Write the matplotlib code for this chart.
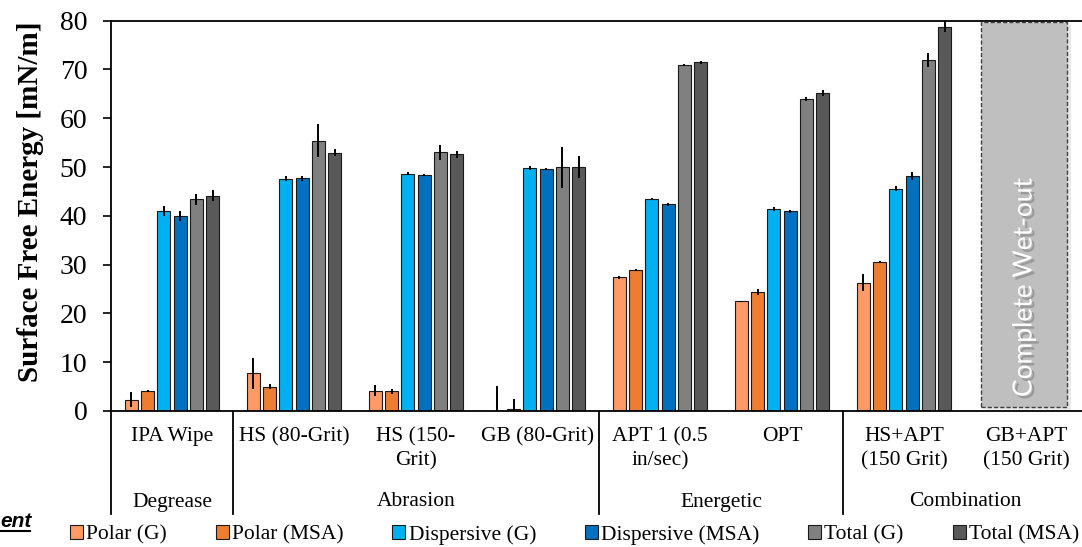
import numpy as np
import matplotlib
matplotlib.use("Agg")
import matplotlib.pyplot as plt
from matplotlib.patches import Rectangle
from matplotlib.lines import Line2D
from matplotlib import patheffects

# ---- data ---------------------------------------------------------------
treatments = ["IPA Wipe", "HS (80-Grit)", "HS (150-\nGrit)", "GB (80-Grit)",
              "APT 1 (0.5\nin/sec)", "OPT", "HS+APT\n(150 Grit)", "GB+APT\n(150 Grit)"]
groups = ["Degrease", "Abrasion", "Energetic", "Combination"]
group_sizes = [1, 3, 2, 2]

series_names = ["Polar (G)", "Polar (MSA)", "Dispersive (G)",
                "Dispersive (MSA)", "Total (G)", "Total (MSA)"]
series_colors = ["#FF9966", "#ED7D31", "#00B0F0", "#0070C0", "#808080", "#595959"]

# GB+APT fully wetted out, so it has no measured values
polar_g = [2.3, 7.7, 4.2, 0.1, 27.4, 22.5, 26.3]
polar_g_err = [1.5, 3.1, 1.2, 5.0, 0.3, 0.1, 1.7]
polar_msa = [4.1, 5.0, 4.0, 0.4, 28.9, 24.4, 30.6]
polar_msa_err = [0.3, 0.5, 0.5, 2.0, 0.3, 0.6, 0.1]
disp_g = [41.0, 47.6, 48.6, 49.9, 43.5, 41.4, 45.6]
disp_g_err = [1.0, 0.5, 0.3, 0.4, 0.1, 0.4, 0.6]
disp_msa = [40.0, 47.7, 48.4, 49.6, 42.4, 40.9, 48.2]
disp_msa_err = [1.0, 0.5, 0.2, 0.3, 0.3, 0.4, 0.8]
total_g = [43.4, 55.4, 53.0, 50.0, 70.9, 63.9, 72.0]
total_g_err = [1.1, 3.4, 1.5, 4.2, 0.2, 0.4, 1.4]
total_msa = [44.1, 52.9, 52.6, 50.0, 71.5, 65.2, 78.8]
total_msa_err = [1.1, 0.7, 0.7, 2.3, 0.3, 0.6, 1.2]

y_ticks = [0, 10, 20, 30, 40, 50, 60, 70, 80]
wet_out_label = "Complete Wet-out"

values = [polar_g, polar_msa, disp_g, disp_msa, total_g, total_msa]
errors = [polar_g_err, polar_msa_err, disp_g_err, disp_msa_err, total_g_err, total_msa_err]

# ---- figure -------------------------------------------------------------
W, H = 1082, 547
fig = plt.figure(figsize=(W / 100, H / 100), dpi=100)
serif = "Liberation Serif"

ax_left, ax_right, ax_top, ax_bot = 111, 1087, 20.7, 411
ax = fig.add_axes([ax_left / W, 1 - ax_bot / H, (ax_right - ax_left) / W, (ax_bot - ax_top) / H])

n_cat = len(treatments)
step = 0.1336
width = 0.1066
offsets = (np.arange(6) - 2.5) * step

for k in range(6):
    vals = np.array(values[k])
    x = np.arange(len(vals)) + 0.5 + offsets[k]
    ax.bar(x, vals, width=width, color=series_colors[k], edgecolor="#1a1a1a",
           linewidth=0.8, zorder=2, label=series_names[k])
    ax.errorbar(x, vals, yerr=errors[k], fmt="none", ecolor="black",
                elinewidth=1.4, capsize=0, zorder=3)

ax.set_xlim(0, n_cat)
ax.set_ylim(0, 80)
ax.set_yticks(y_ticks)
ax.set_yticklabels([str(t) for t in y_ticks], fontfamily=serif, fontsize=20)
ax.tick_params(axis="y", direction="out", length=6, width=1.2, pad=11)
ax.set_xticks([])
for s in ["left", "bottom", "top"]:
    ax.spines[s].set_linewidth(1.3)
ax.spines["right"].set_visible(False)

# wet-out placeholder box
box_x0, box_x1 = 7.131, 7.836
shadow = Rectangle((box_x0 + 0.03, 0.2), box_x1 - box_x0, 79.0, facecolor="#d9d9d9",
                   edgecolor="none", alpha=0.6, zorder=1)
ax.add_patch(shadow)
box = Rectangle((box_x0, 0.9), box_x1 - box_x0, 78.8, facecolor="#BFBFBF",
                edgecolor="#404040", linestyle=(0, (3, 1.5)), linewidth=1.0, zorder=2)
ax.add_patch(box)
ax.text((box_x0 + box_x1) / 2, 25.4, wet_out_label, rotation=90, ha="center", va="center",
        color="white", fontsize=19, fontfamily="Lato", zorder=4,
        path_effects=[patheffects.withSimplePatchShadow(offset=(2, -2), shadow_rgbFace="#808080",
                                                        alpha=0.6)])

# two-level category axis
def ypix_to_axes(yp):
    return (ax_bot - yp) / (ax_bot - ax_top)

xt = ax.get_xaxis_transform()
for i, name in enumerate(treatments):
    ax.text(i + 0.5, ypix_to_axes(427), name, transform=xt, ha="center", va="top",
            fontfamily=serif, fontsize=15.5, linespacing=1.36, clip_on=False)

bounds = np.concatenate([[0], np.cumsum(group_sizes)])
for g, name in enumerate(groups):
    mid = (bounds[g] + bounds[g + 1]) / 2
    ax.text(mid, ypix_to_axes(502), name, transform=xt, ha="center", va="center",
            fontfamily=serif, fontsize=15.5, clip_on=False)
for b in bounds[:-1]:
    ax.add_line(Line2D([b, b], [0, ypix_to_axes(514)], transform=xt, color="black",
                       linewidth=1.3, clip_on=False))

fig.text(31 / W, 1 - 201.5 / H, "Surface Free Energy [mN/m]", rotation=90, ha="center",
         va="center", fontfamily=serif, fontweight="bold", fontsize=21)

# legend
handles = [Rectangle((0, 0), 1, 1, facecolor=c, edgecolor="#1a1a1a", linewidth=0.8)
           for c in series_colors]
fig.legend(handles, series_names, loc="center", bbox_to_anchor=(574.5 / W, 1 - 535 / H),
           ncol=6, frameon=False, prop={"family": serif, "size": 15.5},
           handlelength=0.6, handleheight=0.6, handletextpad=0.15, columnspacing=2.27,
           borderaxespad=0, borderpad=0)

# heading fragment at the lower left
fig.text(0.5 / W, 1 - 527 / H, "ent", ha="left", va="baseline", fontfamily="Liberation Sans",
         fontweight="bold", fontstyle="italic", fontsize=15)
fig.add_artist(Line2D([0, 30 / W], [1 - 531 / H, 1 - 531 / H], color="black", linewidth=1.5))

fig.savefig("out.png", dpi=100)
